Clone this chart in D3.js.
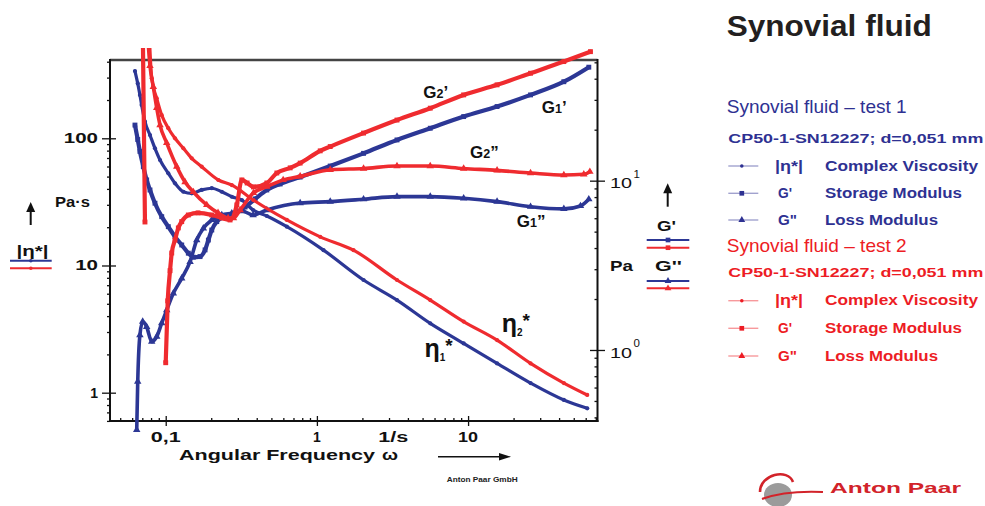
<!DOCTYPE html>
<html><head><meta charset="utf-8">
<script src="https://cdnjs.cloudflare.com/ajax/libs/d3/7.8.5/d3.min.js"></script>
<style>html,body{margin:0;padding:0;background:#fff;} svg{display:block;}</style>
</head><body>
<svg id="chart" width="985" height="506"></svg>
<script>
// ---------------- DATA ----------------
// Test 1 (blue)
const omegaEta1 = [0.0626,0.0653,0.0675,0.0693,0.0729,0.0787,0.0849,0.0917,0.104,0.1152,0.1308,0.1487,0.1731,0.2017,0.2349,0.2735,0.3187,0.3785,0.4665,0.6327,1.106,2.035,3.387,5.62,9.35,15.55,25.9,43.0,61.4];
const eta1      = [338,270,219,183,135,106,83.4,67.5,53.1,44.3,38.0,36.9,39.3,40.5,38.0,34.7,32.7,27.3,24.5,20.2,13.2,7.69,5.35,3.51,2.44,1.70,1.19,0.877,0.754];

const omegaG1p = [0.0626,0.0653,0.0675,0.0711,0.0748,0.0787,0.0849,0.0941,0.104,0.1152,0.1276,0.1411,0.1523,0.1687,0.1821,0.1915,0.2017,0.2176,0.2470,0.2876,0.3352,0.3904,0.4665,0.5715,0.775,1.225,2.035,3.387,5.62,9.35,15.55,25.9,43.0,62.9];
const G1p      = [21.3,17.5,14.9,12.1,10.1,8.81,7.36,6.13,5.35,4.67,4.17,3.73,3.53,3.56,3.90,4.46,5.11,5.73,6.13,6.45,6.99,7.80,8.81,9.56,10.5,12.2,14.5,17.4,20.4,23.9,27.4,32.1,38.4,46.8];

const omegaG1pp = [0.0643,0.0653,0.0675,0.0704,0.0748,0.0808,0.0872,0.0941,0.1015,0.1123,0.1276,0.1449,0.1604,0.1774,0.2017,0.2349,0.2735,0.3201,0.3785,0.4665,0.775,1.225,2.035,3.387,5.62,9.35,15.55,25.9,43.0,55.4,62.9];
const G1pp      = [0.337,0.650,1.226,1.47,1.37,1.12,1.20,1.44,1.72,2.16,2.65,3.32,4.46,5.23,5.86,6.27,6.42,6.62,6.27,6.71,7.38,7.52,7.77,8.05,8.05,7.87,7.52,7.02,6.81,7.09,7.77];

// Test 2 (red)
const omegaEta2 = [0.0781,0.0808,0.0872,0.0941,0.104,0.1152,0.1308,0.1487,0.1731,0.2229,0.2735,0.3803,0.6327,1.052,1.746,3.387,5.62,9.35,15.55,25.9,43.0,61.4];
const eta2      = [593,296,206,152,120,100,83.4,69.6,59.8,47.0,42.9,32.7,22.8,16.8,13.2,7.69,5.35,3.62,2.59,1.70,1.19,0.96];

const omegaG2p = [0.0704,0.0729,0.085,0.1,0.1031,0.1068,0.1096,0.1152,0.1212,0.1276,0.1411,0.1636,0.2017,0.2349,0.2666,0.2953,0.3187,0.3455,0.3803,0.4665,0.5434,0.6658,0.775,1.052,1.225,2.035,3.387,5.62,9.35,15.55,25.9,43.0,64.5];
const G2p      = [89,5.70,null,0.841,1.95,2.94,3.74,4.46,5.26,5.73,6.27,6.45,6.27,6.02,5.86,7.19,10.1,9.69,9.18,9.69,11.1,11.9,12.7,15.0,15.9,19.1,22.8,26.8,32.1,36.8,43.1,50.5,57.8];

const omegaG2pp = [0.0748,0.0787,0.0828,0.0872,0.0917,0.1015,0.1183,0.1342,0.1523,0.1868,0.2219,0.2586,0.2804,0.3105,0.3803,0.4665,0.5982,0.775,1.225,2.035,3.387,5.62,9.35,15.55,25.9,43.0,58.3,63.9];
const G2pp      = [89,47.6,35.8,26.9,21.3,16.7,12.1,9.82,8.58,7.19,6.45,6.02,6.02,6.71,8.46,9.22,10.1,10.6,11.6,11.8,12.2,12.2,11.8,11.5,11.1,10.8,10.9,11.3];

// Ticks
const xMajorTicks = [0.1, 1, 10];
const xTickLabels = ["0,1", "1", "10"];
const xMinorTicks = [0.05,0.06,0.07,0.08,0.09,0.2,0.3,0.4,0.5,0.6,0.7,0.8,0.9,2,3,4,5,6,7,8,9,20,30,40,50,60,70];
const leftMajorTicks = [1, 10, 100];
const leftTickLabels = ["1", "10", "100"];
const leftMinorTicks = [0.6,0.7,0.8,0.9,2,3,4,5,6,7,8,9,20,30,40,50,60,70,80,90,200,300,400];
const rightMajorTicks = [1, 10];
const rightTickExponents = ["0", "1"];
const rightMinorTicks = [0.4,0.5,0.6,0.7,0.8,0.9,2,3,4,5,6,7,8,9,20,30,40,50];

// ---------------- CHART ----------------
const BLUE = "#2c3795", RED = "#ef2b2f";
const LBLUE = "#2e3192", LRED = "#ed1c24";
const FONT = "'Liberation Sans', Arial, sans-serif";
const svg = d3.select("#chart");

const x  = d3.scaleLog().domain([0.0428, 71.8]).range([110, 597.5]);
const yL = d3.scaleLog().domain([0.599, 412.6]).range([421, 60]);
const yR = d3.scaleLog().domain([0.3807, 51.6]).range([421, 60]);

function txt(parent, s, px, py, o) {
  const t = parent.append("text").attr("x", px).attr("y", py).text(s)
    .attr("font-family", o.family || FONT).attr("font-size", o.size)
    .attr("font-weight", o.weight || "bold").attr("fill", o.fill || "#111")
    .attr("text-anchor", o.anchor || "start");
  if (o.len) t.attr("textLength", o.len).attr("lengthAdjust", "spacingAndGlyphs");
  return t;
}

// axes (ticks) via d3 axes
function styleAxis(g) { g.select(".domain").remove(); g.selectAll("line").attr("stroke", "#111").attr("stroke-width", 1.3); g.selectAll("text").remove(); }
svg.append("g").attr("transform", "translate(0,421)").call(d3.axisTop(x).tickValues(xMinorTicks).tickSize(3).tickFormat("")).call(styleAxis);
svg.append("g").attr("transform", "translate(0,426)").call(d3.axisBottom(x).tickValues(xMajorTicks).tickSize(-10).tickFormat("")).call(styleAxis);
svg.append("g").attr("transform", "translate(110,0)").call(d3.axisLeft(yL).tickValues(leftMinorTicks).tickSize(3).tickFormat("")).call(styleAxis);
svg.append("g").attr("transform", "translate(102,0)").call(d3.axisRight(yL).tickValues(leftMajorTicks).tickSize(14).tickFormat("")).call(styleAxis);
svg.append("g").attr("transform", "translate(597.5,0)").call(d3.axisLeft(yR).tickValues(rightMinorTicks).tickSize(3).tickFormat("")).call(styleAxis);
svg.append("g").attr("transform", "translate(590,0)").call(d3.axisRight(yR).tickValues(rightMajorTicks).tickSize(15).tickFormat("")).call(styleAxis);

// frame
const frame = svg.append("g");
frame.append("line").attr("x1",110).attr("y1",60).attr("x2",597.5).attr("y2",60).attr("stroke","#444").attr("stroke-width",2.5);
frame.append("line").attr("x1",110).attr("y1",59).attr("x2",110).attr("y2",422).attr("stroke","#111").attr("stroke-width",2);
frame.append("line").attr("x1",109).attr("y1",421).attr("x2",598.5).attr("y2",421).attr("stroke","#111").attr("stroke-width",2);
frame.append("line").attr("x1",597.5).attr("y1",59).attr("x2",597.5).attr("y2",422).attr("stroke","#111").attr("stroke-width",2);

// tick labels
leftMajorTicks.forEach((v,i) => {
  const s = leftTickLabels[i];
  txt(svg, s, 98, yL(v) + 5, {size: 14, anchor: "end", len: s.length > 1 ? s.length * 11.4 : null});
});
xMajorTicks.forEach((v,i) => {
  const s = xTickLabels[i];
  txt(svg, s, x(v), 441.7, {size: 14, anchor: "middle", len: s.length > 1 ? s.length * 10 : null});
});
txt(svg, "1/s", x(3.2), 441.7, {size: 14, anchor: "middle", len: 30});
rightMajorTicks.forEach((v,i) => {
  txt(svg, "10", 610, yR(v) + 7.6, {size: 14, weight: "normal", len: 22, fill: "#111"});
  txt(svg, rightTickExponents[i], 633.5, yR(v) - 2.5, {size: 11.5, weight: "normal", fill: "#111"});
});

// axis titles
txt(svg, "Angular Frequency", 179, 460, {size: 15, len: 196});
txt(svg, "ω", 382, 460, {size: 15, len: 16});
svg.append("line").attr("x1",438).attr("y1",456.7).attr("x2",500).attr("y2",456.7).attr("stroke","#111").attr("stroke-width",1.4);
svg.append("path").attr("d","M499,453 L511,456.7 L499,460.4 Z").attr("fill","#111");
txt(svg, "Anton Paar GmbH", 446.7, 481.7, {size: 6.5, len: 71, fill: "#222"});

txt(svg, "Pa·s", 55, 206.7, {size: 14, len: 35});
txt(svg, "|η*|", 16.5, 256, {size: 15, len: 32});
txt(svg, "Pa", 610, 271, {size: 14, len: 23});
txt(svg, "G'", 657, 230.7, {size: 14, len: 19});
txt(svg, "G''", 655, 271, {size: 14, len: 27});

function arrowUp(cx, yTop, yBot) {
  svg.append("line").attr("x1",cx).attr("y1",yTop+8).attr("x2",cx).attr("y2",yBot).attr("stroke","#111").attr("stroke-width",2);
  svg.append("path").attr("d",`M${cx-4.5},${yTop+10} L${cx},${yTop} L${cx+4.5},${yTop+10} Z`).attr("fill","#111");
}
arrowUp(30.7, 202, 225);
arrowUp(667.7, 183.3, 206.7);

// small legends near axes
function legendLine(x1, x2, yy, color, shape, light) {
  svg.append("line").attr("x1",x1).attr("x2",x2).attr("y1",yy).attr("y2",yy)
    .attr("stroke", color).attr("stroke-width", light ? 1.4 : 2).attr("stroke-opacity", light ? 0.45 : 1);
  const cx = light ? x1 + 13.5 : (x1 + x2) / 2;
  const sym = d3.symbol().type(shape === "circle" ? d3.symbolCircle : shape === "square" ? d3.symbolSquare : d3.symbolTriangle)
    .size(shape === "circle" ? 10 : shape === "square" ? 22 : 20);
  svg.append("path").attr("d", sym()).attr("transform", `translate(${cx},${yy})`).attr("fill", color);
}
legendLine(10, 51.7, 260.7, BLUE, "circle");
legendLine(10, 51.7, 268.3, RED, "circle");
legendLine(646.7, 689.3, 240, BLUE, "square");
legendLine(646.7, 689.3, 247.7, RED, "square");
legendLine(646.7, 689.3, 281, BLUE, "triangle");
legendLine(646.7, 689.3, 288.3, RED, "triangle");

// ---------------- SERIES ----------------
svg.append("clipPath").attr("id","clip").append("rect").attr("x",0).attr("y",48).attr("width",985).attr("height",458);
const plot = svg.append("g").attr("clip-path","url(#clip)");

function series(omegas, vals, yScale, color, shape, width) {
  const data = omegas.map((w,i) => [w, vals[i]]);
  const line = d3.line().defined(d => d[1] != null).curve(d3.curveMonotoneX).x(d => x(d[0])).y(d => yScale(d[1]));
  plot.append("path").datum(data).attr("d", line).attr("fill","none").attr("stroke",color)
    .attr("stroke-width", width).attr("stroke-linejoin","round").attr("stroke-linecap","round");
  const sym = d3.symbol().type(shape === "circle" ? d3.symbolCircle : shape === "square" ? d3.symbolSquare : d3.symbolTriangle)
    .size(shape === "circle" ? 14 : shape === "square" ? 24 : 24);
  plot.selectAll(null).data(data.filter(d => d[1] != null)).enter().append("path")
    .attr("d", sym()).attr("transform", d => `translate(${x(d[0])},${yScale(d[1])})`).attr("fill", color);
}
series(omegaEta1, eta1, yL, BLUE, "circle", 3.2);
series(omegaG1pp, G1pp, yR, BLUE, "triangle", 3.6);
series(omegaG1p, G1p, yR, BLUE, "square", 4.2);
series(omegaEta2, eta2, yL, RED, "circle", 3.2);
series(omegaG2pp, G2pp, yR, RED, "triangle", 3.6);
series(omegaG2p, G2p, yR, RED, "square", 4.2);

// curve labels
function gLabel(px, py, sub, prime) {
  const t = svg.append("text").attr("x", px).attr("y", py).attr("font-family", FONT).attr("font-weight","bold").attr("fill","#111");
  t.append("tspan").attr("font-size", 17).text("G");
  t.append("tspan").attr("font-size", 12.5).text(sub);
  t.append("tspan").attr("font-size", 17).text(prime);
}
gLabel(423.3, 98.3, "2", "’");
gLabel(541.7, 112.7, "1", "’");
gLabel(470, 158.3, "2", "”");
gLabel(516.7, 226.7, "1", "”");

function etaLabel(px, py, sub) {
  const t = svg.append("text").attr("x", px).attr("y", py).attr("font-family", FONT).attr("font-weight","bold").attr("fill","#111");
  t.append("tspan").attr("font-size", 25).text("η");
  t.append("tspan").attr("font-size", 10).attr("dy", 4).text(sub);
  t.append("tspan").attr("font-size", 19).attr("dy", -9).text("*");
}
etaLabel(501.7, 331.5, "2");
etaLabel(424.5, 356.5, "1");

// ---------------- RIGHT PANEL ----------------
txt(svg, "Synovial fluid", 726.7, 36, {size: 30, len: 205, fill: "#231f20"});

function legendBlock(title, titleY, sub, subY, rowYs, color) {
  txt(svg, title, 726.7, titleY, {size: 18.5, weight: "normal", fill: color, len: 180});
  txt(svg, sub, 728.3, subY, {size: 12.5, fill: color, len: 255});
  const rows = [["|η*|", "Complex Viscosity", "circle", 153], ["G'", "Storage Modulus", "square", 137], ["G\"", "Loss Modulus", "triangle", 113]];
  rows.forEach((r, i) => {
    legendLine(728.3, 758.3, rowYs[i], color, r[2], true);
    txt(svg, r[0], i === 0 ? 775 : 778, rowYs[i] + 4.7, {size: 14, fill: color, len: i === 0 ? 28 : (i === 1 ? 14 : 19)});
    txt(svg, r[1], 825, rowYs[i] + 4.7, {size: 14, fill: color, len: r[3]});
  });
}
legendBlock("Synovial fluid – test 1", 113.3, "CP50-1-SN12227; d=0,051 mm", 143.3, [166, 193.3, 220], LBLUE);
legendBlock("Synovial fluid – test 2", 251.7, "CP50-1-SN12227; d=0,051 mm", 276.7, [300.7, 328.3, 356], LRED);

// logo
const logo = svg.append("g");
logo.append("ellipse").attr("cx", 778).attr("cy", 495).attr("rx", 14).attr("ry", 12).attr("fill", "#9b9b9b");
logo.append("path").attr("d", "M762,494 C764,482 778,478 792,484 L792,480 C778,474 762,478 760,492 Z").attr("fill","#fff");
logo.append("path").attr("d", "M760,492 C760,474 788,468 793,482").attr("fill","none").attr("stroke","#d2232a").attr("stroke-width",2.6);
logo.append("path").attr("d", "M762,499 C778,493 800,491 823,492").attr("fill","none").attr("stroke","#d2232a").attr("stroke-width",2.2);
txt(svg, "Anton Paar", 830, 493.3, {size: 15, fill: "#d2232a", len: 131});
</script>
</body></html>
